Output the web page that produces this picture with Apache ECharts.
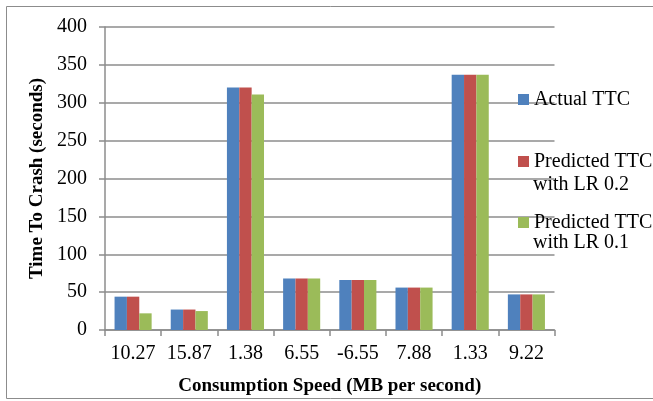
<!DOCTYPE html>
<html><head><meta charset="utf-8">
<script src="https://cdn.jsdelivr.net/npm/echarts@6/dist/echarts.min.js"></script>
<style>html,body{margin:0;padding:0;background:#fff}#c{width:653px;height:401px}</style>
</head><body><div id="c"></div>
<script>
const categories = ['10.27','15.87','1.38','6.55','-6.55','7.88','1.33','9.22'];
const actualTTC = [44, 27, 320, 68, 66, 56, 337, 47];
const predLR02 = [44, 27, 320, 68, 66, 56, 337, 47];
const predLR01 = [22, 25, 311, 68, 66, 56, 337, 47];
const seriesNames = ['Actual TTC', 'Predicted TTC with LR 0.2', 'Predicted TTC with LR 0.1'];
const yTicks = {min: 0, max: 400, interval: 50};

const font = 'Liberation Serif';
const gray = '#8c8c8c';
const chart = echarts.init(document.getElementById('c'));
const legendBase = {
  orient: 'vertical', left: 518, itemWidth: 11, itemHeight: 11, itemGap: 0, padding: 0,
  icon: 'rect', selectedMode: false,
  textStyle: {fontFamily: font, fontSize: 20, color: '#000'}
};
chart.setOption({
  animation: false,
  graphic: [
    {type: 'rect', shape: {x: 6.5, y: 6.5, width: 700, height: 392}, style: {fill: 'none', stroke: gray, lineWidth: 1}, z: -1},
    {type: 'text', left: 533, top: 175, style: {text: 'with LR 0.2', font: '20px "Liberation Serif"', fill: '#000'}},
    {type: 'text', left: 533, top: 233, style: {text: 'with LR 0.1', font: '20px "Liberation Serif"', fill: '#000'}}
  ],
  legend: [
    Object.assign({}, legendBase, {top: 89.5, data: [seriesNames[0]]}),
    Object.assign({}, legendBase, {top: 151.5, data: [seriesNames[1]], formatter: () => 'Predicted TTC'}),
    Object.assign({}, legendBase, {top: 212.5, data: [seriesNames[2]], formatter: () => 'Predicted TTC'})
  ],
  grid: {left: 105, right: 98.5, top: 27, bottom: 67},
  xAxis: {
    type: 'category', data: categories,
    name: 'Consumption Speed (MB per second)', nameLocation: 'middle', nameGap: 47,
    nameTextStyle: {fontFamily: font, fontSize: 19, fontWeight: 'bold', color: '#000'},
    axisLine: {lineStyle: {color: gray, width: 1.5}},
    axisTick: {show: true, length: 6, lineStyle: {color: gray, width: 1.5}},
    axisLabel: {fontFamily: font, fontSize: 20, color: '#000', margin: 14, interval: 0}
  },
  yAxis: {
    type: 'value', min: yTicks.min, max: yTicks.max, interval: yTicks.interval,
    name: 'Time To Crash (seconds)', nameLocation: 'middle', nameGap: 58,
    nameTextStyle: {fontFamily: font, fontSize: 19, fontWeight: 'bold', color: '#000'},
    axisLine: {show: true, lineStyle: {color: gray, width: 1.5}},
    axisTick: {show: true, length: 6, lineStyle: {color: gray, width: 1.5}},
    axisLabel: {fontFamily: font, fontSize: 20, color: '#000', margin: 18},
    splitLine: {lineStyle: {color: gray, width: 1.5}}
  },
  series: [
    {name: seriesNames[0], type: 'bar', data: actualTTC, itemStyle: {color: '#4f81bd'}, barGap: '0%', barCategoryGap: '34%'},
    {name: seriesNames[1], type: 'bar', data: predLR02, itemStyle: {color: '#c0504d'}, barGap: '0%', barCategoryGap: '34%'},
    {name: seriesNames[2], type: 'bar', data: predLR01, itemStyle: {color: '#9bbb59'}, barGap: '0%', barCategoryGap: '34%'}
  ]
});
</script></body></html>
